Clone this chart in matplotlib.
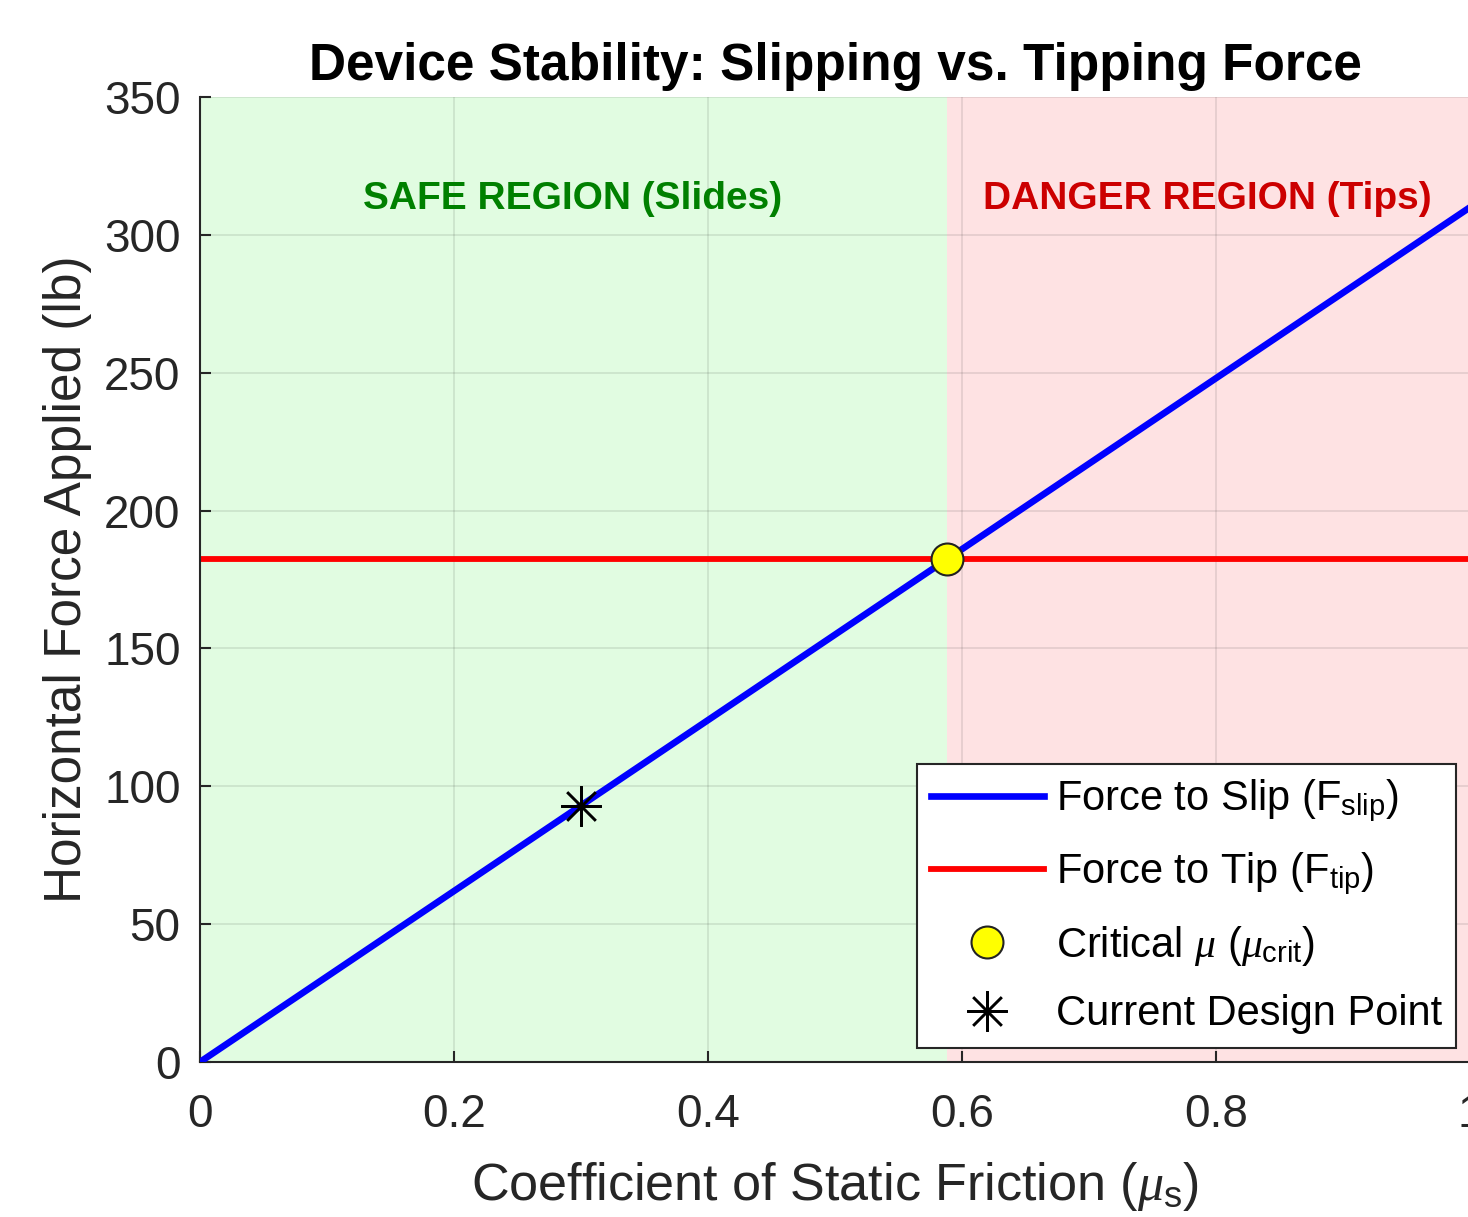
import matplotlib
matplotlib.use("Agg")
import matplotlib.pyplot as plt
import numpy as np

# valeurs
mu_range = [0.0, 1.0]
slope_slip = 310.0          # F_slip = slope * mu  (lb)
f_tip = 182.3               # force de basculement (lb)
mu_crit = 0.588
mu_design = 0.30
f_design = 93.0
x_ticks = [0, 0.2, 0.4, 0.6, 0.8, 1]
y_ticks = [0, 50, 100, 150, 200, 250, 300, 350]

plt.rcParams['font.family'] = ['Liberation Sans', 'DejaVu Sans']
plt.rcParams['mathtext.fontset'] = 'custom'
plt.rcParams['mathtext.rm'] = 'Liberation Sans'
plt.rcParams['mathtext.it'] = 'Liberation Serif:italic'
plt.rcParams['mathtext.bf'] = 'Liberation Sans:bold'
plt.rcParams['mathtext.sf'] = 'Liberation Sans'

axc = '#262626'

fig = plt.figure(figsize=(14.68, 12.17), dpi=100)
ax = fig.add_axes([200/1468, (1217-1062)/1217, 1270/1468, 965/1217])

mu = np.array(mu_range)
f_slip = slope_slip * mu

# zones
ax.axvspan(0, mu_crit, color='#e1fce1', zorder=0, lw=0)
ax.axvspan(mu_crit, 1, color='#fee2e3', zorder=0, lw=0)

ax.plot(mu, f_slip, color='#0000ff', lw=4.8, zorder=3, label='Force to Slip ($\\mathrm{F}_{\\mathrm{slip}}$)')
ax.plot(mu, [f_tip, f_tip], color='#ff0000', lw=4.2, zorder=2, label='Force to Tip ($\\mathrm{F}_{\\mathrm{tip}}$)')
ax.plot([mu_crit], [f_tip], 'o', ms=23, mfc='#ffff00', mec='#222222', mew=1.5, zorder=4,
        label='Critical $\\mu$ ($\\mu_{\\mathrm{crit}}$)')
ax.plot([mu_design], [f_design], marker=(8, 2, 0), ms=29, color='black', mew=1.8, ls='none', zorder=5,
        label='Current Design Point')

ax.text(0.2937, 313, 'SAFE REGION (Slides)', color='#008000', fontsize=28, fontweight='bold',
        ha='center', va='center')
ax.text(0.793, 313, 'DANGER REGION (Tips)', color='#cc0000', fontsize=28, fontweight='bold',
        ha='center', va='center')

ax.set_xlim(0, 1)
ax.set_ylim(0, 350)
ax.set_xticks(x_ticks)
ax.set_xticklabels(['0', '0.2', '0.4', '0.6', '0.8', '1'])
ax.set_yticks(y_ticks)
ax.grid(True, color='#262626', alpha=0.12, lw=1.2)
for line in ax.get_xgridlines() + ax.get_ygridlines():
    line.set_zorder(1)

ax.tick_params(direction='in', length=8, width=1.5, colors=axc, labelsize=33,
               top=False, right=False)
ax.tick_params(axis='x', pad=22)
ax.tick_params(axis='y', pad=14)
for s in ['top', 'right']:
    ax.spines[s].set_visible(False)
for s in ['left', 'bottom']:
    ax.spines[s].set_color(axc)
    ax.spines[s].set_linewidth(1.5)

ax.set_xlabel('Coefficient of Static Friction ($\\mu_{\\mathrm{s}}$)', fontsize=37.5, color=axc, labelpad=17)
ax.set_ylabel('Horizontal Force Applied (lb)', fontsize=37, color=axc, labelpad=9)
ax.set_title('Device Stability: Slipping vs. Tipping Force', fontsize=37, fontweight='bold', pad=12)

leg = ax.legend(loc='lower right', bbox_to_anchor=(0.989, 0.0145), borderaxespad=0,
                fontsize=30, frameon=True, fancybox=False, framealpha=1, edgecolor='#262626',
                handlelength=2.7, handletextpad=0.3, labelspacing=0.64, borderpad=0.33)
leg.get_frame().set_linewidth(1.5)
leg.set_zorder(10)

fig.savefig('out.png', dpi=100)
